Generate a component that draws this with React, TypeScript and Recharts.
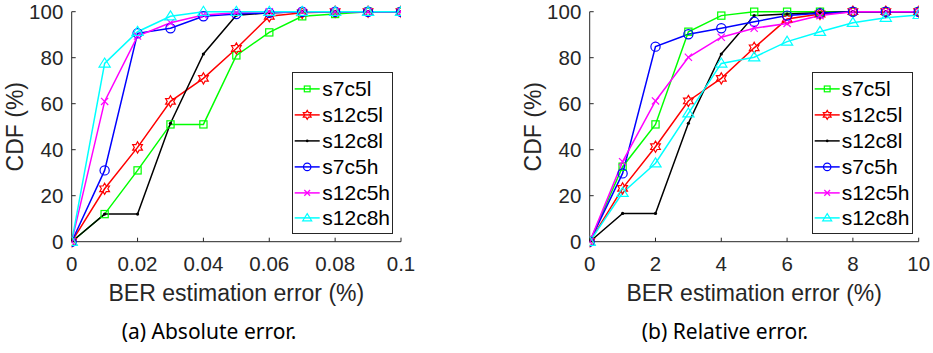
import React from 'react';
import { LineChart, Line, XAxis, YAxis, Legend } from 'recharts';

const AXIS = '#262626';
const FONT = '"Liberation Sans", Arial, Helvetica, sans-serif';

const seriesNames = ['s7c5l', 's12c5l', 's12c8l', 's7c5h', 's12c5h', 's12c8h'];
const seriesColors = ['#00ff00', '#ff0000', '#000000', '#0000ff', '#ff00ff', '#00ffff'];
const seriesMarkers = ['square', 'hexagram', 'point', 'circle', 'x', 'triangle'];

// (a) Absolute error
const absX = [0, 0.01, 0.02, 0.03, 0.04, 0.05, 0.06, 0.07, 0.08, 0.09, 0.1];
const absS7c5l = [0, 12, 31, 51, 51, 81, 91, 98, 99, 100, 100];
const absS12c5l = [0, 23, 41, 61, 71, 84, 98, 99.5, 100, 100, 100];
const absS12c8l = [0, 12, 12, 51.5, 81.6, 98.5, 99.5, 100, 100, 100, 100];
const absS7c5h = [0, 31, 90.6, 92.8, 98, 99, 99.5, 100, 100, 100, 100];
const absS12c5h = [0, 61, 89.4, 95.2, 98.6, 99.5, 100, 100, 100, 100, 100];
const absS12c8h = [0, 77.5, 91.3, 98, 100, 100, 100, 100, 100, 100, 100];
const absTicks = [0, 0.02, 0.04, 0.06, 0.08, 0.1];

// (b) Relative error
const relX = [0, 1, 2, 3, 4, 5, 6, 7, 8, 9, 10];
const relS7c5l = [0, 32.6, 51, 91.3, 98.3, 100, 100, 100, 100, 100, 100];
const relS12c5l = [0, 23.2, 41.3, 61.2, 71, 84.3, 96.8, 99, 100, 100, 100];
const relS12c8l = [0, 12.3, 12.3, 51.5, 81.6, 98.3, 99, 99.5, 100, 100, 100];
const relS7c5h = [0, 29.7, 84.8, 90.2, 92.8, 95.6, 98.3, 99.3, 100, 100, 100];
const relS12c5h = [0, 34.8, 61.2, 80.2, 88.9, 92.8, 94.9, 98.3, 100, 100, 100];
const relS12c8h = [0, 21.3, 34.1, 55.8, 77.5, 80.2, 87, 91.3, 95.2, 97.4, 98.6];
const relTicks = [0, 2, 4, 6, 8, 10];

const yTicks = [0, 20, 40, 60, 80, 100];

function buildRows(xs: number[], cols: number[][]) {
  return xs.map((x, i) => {
    const row: any = { x };
    seriesNames.forEach((n, j) => {
      row[n] = cols[j][i];
    });
    return row;
  });
}

const absData = buildRows(absX, [absS7c5l, absS12c5l, absS12c8l, absS7c5h, absS12c5h, absS12c8h]);
const relData = buildRows(relX, [relS7c5l, relS12c5l, relS12c8l, relS7c5h, relS12c5h, relS12c8h]);

function Marker({ shape, cx, cy, color, scale = 1 }: any) {
  const sw = 1.2;
  if (cx == null || cy == null) return null;
  switch (shape) {
    case 'square': {
      const s = 3.6 * scale;
      return <rect x={cx - s} y={cy - s} width={2 * s} height={2 * s} fill="none" stroke={color} strokeWidth={sw} />;
    }
    case 'hexagram': {
      const ro = 5.6 * scale;
      const ri = ro / Math.sqrt(3);
      const pts: string[] = [];
      for (let k = 0; k < 12; k++) {
        const r = k % 2 === 0 ? ro : ri;
        const a = (Math.PI / 6) * k - Math.PI / 2;
        pts.push(`${cx + r * Math.cos(a)},${cy + r * Math.sin(a)}`);
      }
      return <polygon points={pts.join(' ')} fill="none" stroke={color} strokeWidth={sw} />;
    }
    case 'point':
      return <circle cx={cx} cy={cy} r={1.6 * scale} fill={color} stroke="none" />;
    case 'circle':
      return <circle cx={cx} cy={cy} r={4.6 * scale} fill="none" stroke={color} strokeWidth={sw} />;
    case 'x': {
      const s = 3.6 * scale;
      return (
        <g stroke={color} strokeWidth={sw}>
          <line x1={cx - s} y1={cy - s} x2={cx + s} y2={cy + s} />
          <line x1={cx - s} y1={cy + s} x2={cx + s} y2={cy - s} />
        </g>
      );
    }
    case 'triangle': {
      const w = 5.6 * scale;
      const t = 5.4 * scale;
      const b = 3.6 * scale;
      return (
        <polygon
          points={`${cx},${cy - t} ${cx + w},${cy + b} ${cx - w},${cy + b}`}
          fill="none"
          stroke={color}
          strokeWidth={sw}
        />
      );
    }
    default:
      return null;
  }
}

function LegendBox() {
  const rowH = 25.8;
  return (
    <div
      style={{
        width: 101,
        height: 162.3,
        boxSizing: 'border-box',
        border: `1px solid ${AXIS}`,
        background: '#fff',
        position: 'relative',
        fontFamily: FONT,
        fontSize: 21,
        color: '#000',
      }}
    >
      {seriesNames.map((n, i) => {
        const cy = 17.3 + i * rowH - 1;
        return (
          <div key={n} style={{ position: 'absolute', left: 0, top: cy - rowH / 2, height: rowH, width: 99 }}>
            <svg width={30} height={rowH} style={{ position: 'absolute', left: 0, top: 0 }}>
              <line x1={1.7} y1={rowH / 2} x2={26.7} y2={rowH / 2} stroke={seriesColors[i]} strokeWidth={1.5} />
              <Marker shape={seriesMarkers[i]} cx={14.2} cy={rowH / 2} color={seriesColors[i]} scale={0.8} />
            </svg>
            <span
              style={{
                position: 'absolute',
                left: 29,
                top: 0,
                height: rowH,
                lineHeight: `${rowH}px`,
                whiteSpace: 'nowrap',
              }}
            >
              {n}
            </span>
          </div>
        );
      })}
    </div>
  );
}

function Panel({ data, ticks, domain, width, right, legendLeft }: any) {
  return (
    <LineChart
      width={width}
      height={310}
      data={data}
      margin={{ top: 11.7, right, bottom: 0, left: 0 }}
      style={{ fontFamily: FONT }}
    >
      <XAxis
        xAxisId="b"
        dataKey="x"
        type="number"
        domain={domain}
        ticks={ticks}
        allowDataOverflow
        height={68.3}
        tickSize={-4}
        tickMargin={19}
        axisLine={{ stroke: AXIS, strokeWidth: 1 }}
        tickLine={{ stroke: AXIS, strokeWidth: 1 }}
        tick={{ fill: AXIS, fontSize: 20.5, fontFamily: FONT }}
        tickFormatter={(v: number) => String(v)}
        interval={0}
        label={(p: any) => {
          const vb = p.viewBox || {};
          return (
            <text
              x={vb.x + vb.width / 2}
              y={vb.y + 59.5}
              textAnchor="middle"
              fill={AXIS}
              fontSize={23}
              fontFamily={FONT}
            >
              BER estimation error (%)
            </text>
          );
        }}
      />
      <XAxis
        xAxisId="t"
        orientation="top"
        dataKey="x"
        type="number"
        domain={domain}
        ticks={ticks}
        allowDataOverflow
        height={0}
        tickSize={-4}
        axisLine={{ stroke: AXIS, strokeWidth: 1 }}
        tickLine={{ stroke: AXIS, strokeWidth: 1 }}
        tick={false}
        interval={0}
      />
      <YAxis
        yAxisId="l"
        type="number"
        domain={[0, 100]}
        ticks={yTicks}
        width={71.7}
        tickSize={-4}
        tickMargin={12.4}
        axisLine={{ stroke: AXIS, strokeWidth: 1 }}
        tickLine={{ stroke: AXIS, strokeWidth: 1 }}
        tick={{ fill: AXIS, fontSize: 20.5, fontFamily: FONT }}
        interval={0}
        label={(p: any) => {
          const vb = p.viewBox || {};
          const x = vb.x + 23.3;
          const y = vb.y + vb.height / 2;
          return (
            <text
              x={x}
              y={y}
              transform={`rotate(-90, ${x}, ${y})`}
              textAnchor="middle"
              fill={AXIS}
              fontSize={23}
              fontFamily={FONT}
            >
              CDF (%)
            </text>
          );
        }}
      />
      <YAxis
        yAxisId="r"
        orientation="right"
        type="number"
        domain={[0, 100]}
        ticks={yTicks}
        width={0}
        tickSize={-4}
        axisLine={{ stroke: AXIS, strokeWidth: 1 }}
        tickLine={{ stroke: AXIS, strokeWidth: 1 }}
        tick={false}
        interval={0}
      />
      {seriesNames.map((n, i) => (
        <Line
          key={n}
          xAxisId="b"
          yAxisId="l"
          dataKey={n}
          type="linear"
          stroke={seriesColors[i]}
          strokeWidth={1.5}
          isAnimationActive={false}
          activeDot={false}
          dot={(p: any) => (
            <Marker key={`${n}-${p.index}`} shape={seriesMarkers[i]} cx={p.cx} cy={p.cy} color={seriesColors[i]} />
          )}
        />
      ))}
      <Legend
        layout="vertical"
        align="center"
        verticalAlign="middle"
        content={() => <LegendBox />}
        wrapperStyle={{ left: legendLeft, top: 72, width: 101, height: 162.3, right: 'auto', bottom: 'auto' }}
      />
    </LineChart>
  );
}

const captionStyle: React.CSSProperties = {
  position: 'absolute',
  top: 318,
  width: 300,
  textAlign: 'center',
  fontFamily: '"Noto Sans", sans-serif',
  fontSize: 21,
  lineHeight: '26px',
  color: '#000',
};

export default function App() {
  return (
    <div style={{ position: 'absolute', left: 0, top: 0, width: 933, height: 353, background: '#fff', overflow: 'hidden' }}>
      <div style={{ position: 'absolute', left: 0, top: 0 }}>
        <Panel data={absData} ticks={absTicks} domain={[0, 0.1]} width={466} right={65} legendLeft={292.3} />
      </div>
      <div style={{ position: 'absolute', left: 518.3, top: 0 }}>
        <Panel data={relData} ticks={relTicks} domain={[0, 10]} width={414.7} right={14} legendLeft={293.4} />
      </div>
      <div style={{ ...captionStyle, left: 209 - 150 }}>(a) Absolute error.</div>
      <div style={{ ...captionStyle, left: 725 - 150 }}>(b) Relative error.</div>
    </div>
  );
}
